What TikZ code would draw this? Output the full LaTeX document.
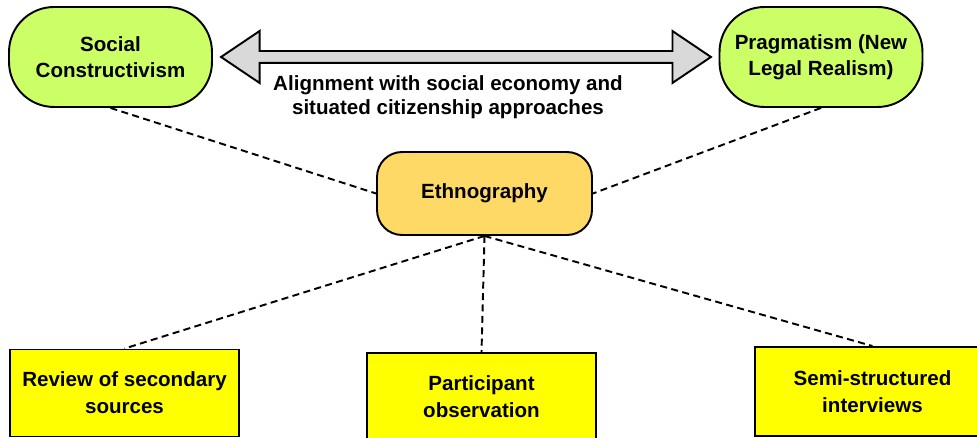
\documentclass[tikz,border=0pt]{standalone}
\usepackage{fontspec}
\setmainfont{Liberation Sans}
\usepackage{tikz}
\usetikzlibrary{shapes.arrows}

\definecolor{paragreen}{RGB}{204,255,102}
\definecolor{ethgold}{RGB}{255,217,102}
\definecolor{methyellow}{RGB}{255,255,0}
\definecolor{arrowgrey}{RGB}{217,217,217}

\tikzset{
  paradigm/.style={draw, line width=1.1pt, fill=paragreen, rounded corners=0.9cm,
    minimum width=4.06cm, minimum height=2cm, align=center,
    font=\bfseries\fontsize{11.7}{14.5}\selectfont},
  ethbox/.style={draw, line width=1.1pt, fill=ethgold, rounded corners=0.5cm,
    minimum width=4.3cm, minimum height=1.66cm, align=center,
    font=\bfseries\fontsize{11.7}{14.5}\selectfont},
  methodbox/.style={draw, line width=1.1pt, fill=methyellow,
    minimum width=4.58cm, minimum height=1.74cm, align=center,
    font=\bfseries\fontsize{11.7}{15.5}\selectfont},
  link/.style={line width=1.1pt, dash pattern=on 4pt off 2.5pt}
}

\begin{document}
\begin{tikzpicture}[x=0.02cm, y=-0.02cm]
\useasboundingbox (0,0) rectangle (977,438);

% paradigms
\node[paradigm] (social) at (110.5,57) {Social\\Constructivism};
\node[paradigm] (pragma) at (821,57) {Pragmatism (New\\Legal Realism)};

% two-headed block arrow between the paradigms
\node[draw, line width=1.1pt, fill=arrowgrey, shape=double arrow,
      minimum height=9.8cm, inner xsep=0pt, inner ysep=0.1cm,
      double arrow head extend=0.4cm, double arrow tip angle=68] (align) at (466,57) {};
\node[align=center, font=\bfseries\fontsize{11.7}{14}\selectfont] (aligntext) at (448,97)
  {Alignment with social economy and\\situated citizenship approaches};

% methodology
\node[ethbox] (ethno) at (484.5,193.5) {Ethnography};

% methods
\node[methodbox] (review) at (124.5,393) {Review of secondary\\sources};
\node[methodbox, minimum height=1.76cm] (partic) at (481.5,397) {Participant\\observation};
\node[methodbox, minimum width=4.7cm, minimum height=1.78cm] (semi) at (872.5,391.5) {Semi-structured\\interviews};

\draw[link] (social.south) -- (ethno.west);
\draw[link] (pragma.south) -- (ethno.east);
\draw[link] (ethno.south) -- (review.north);
\draw[link] (ethno.south) -- (partic.north);
\draw[link] (ethno.south) -- (semi.north);
\end{tikzpicture}
\end{document}
